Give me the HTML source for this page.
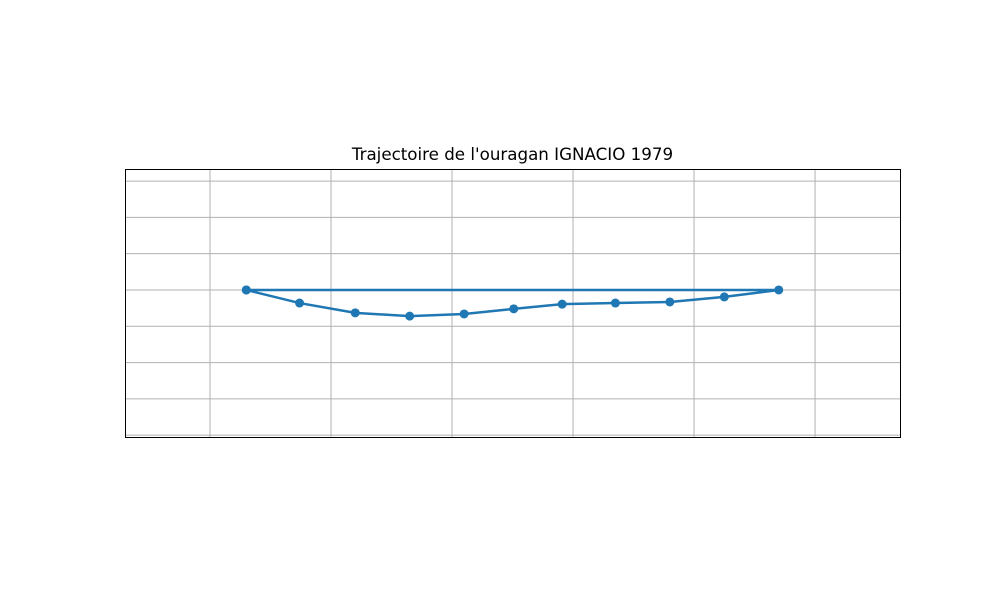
<!DOCTYPE html>
<html><head><meta charset="utf-8"><style>
body{margin:0;background:#fff;}
svg{display:block;font-family:"DejaVu Sans","Liberation Sans",sans-serif;}
</style></head><body>
<svg id="chart" width="1000" height="600">
<text x="512.5" y="160" text-anchor="middle" font-size="16.7">Trajectoire de l'ouragan IGNACIO 1979</text>
<g id="grid"></g>
<g id="series"></g>
<rect x="125.5" y="169.5" width="775" height="268" fill="none" stroke="#000" stroke-width="1"/>
</svg>
<script>
const xs=[0.30,0.74,1.20,1.65,2.10,2.51,2.91,3.35,3.80,4.25,4.70,0.30];
const ys=[0,-0.36,-0.63,-0.72,-0.66,-0.52,-0.39,-0.36,-0.33,-0.19,0,0];
const xTicks=[0,1,2,3,4,5];
const yTicks=[3,2,1,0,-1,-2,-3,-4];
const L=125,R=900,T=169,B=437;
const x0=-0.7025,x1=5.702,y0=-4.05,y1=3.333;
const sx=v=>L+(v-x0)/(x1-x0)*(R-L);
const sy=v=>B-(v-y0)/(y1-y0)*(B-T);
const ns="http://www.w3.org/2000/svg";
const g=document.getElementById('grid');
xTicks.forEach(t=>{const l=document.createElementNS(ns,'line');


l.setAttribute('x1',sx(t));l.setAttribute('x2',sx(t));l.setAttribute('y1',T);l.setAttribute('y2',B);
l.setAttribute('stroke','#b0b0b0');l.setAttribute('stroke-width','1');g.appendChild(l);});
yTicks.forEach(t=>{const l=document.createElementNS(ns,'line');


l.setAttribute('x1',L);l.setAttribute('x2',R);l.setAttribute('y1',sy(t));l.setAttribute('y2',sy(t));
l.setAttribute('stroke','#b0b0b0');l.setAttribute('stroke-width','1');g.appendChild(l);});
const s=document.getElementById('series');
const p=document.createElementNS(ns,'polyline');


p.setAttribute('points',xs.map((v,i)=>sx(v)+','+sy(ys[i])).join(' '));
p.setAttribute('fill','none');p.setAttribute('stroke','#1f77b4');p.setAttribute('stroke-width','2.5');
s.appendChild(p);
xs.forEach((v,i)=>{const c=document.createElementNS(ns,'circle');


c.setAttribute('cx',sx(v));c.setAttribute('cy',sy(ys[i]));c.setAttribute('r','4.5');
c.setAttribute('fill','#1f77b4');s.appendChild(c);});
</script>
</body></html>
